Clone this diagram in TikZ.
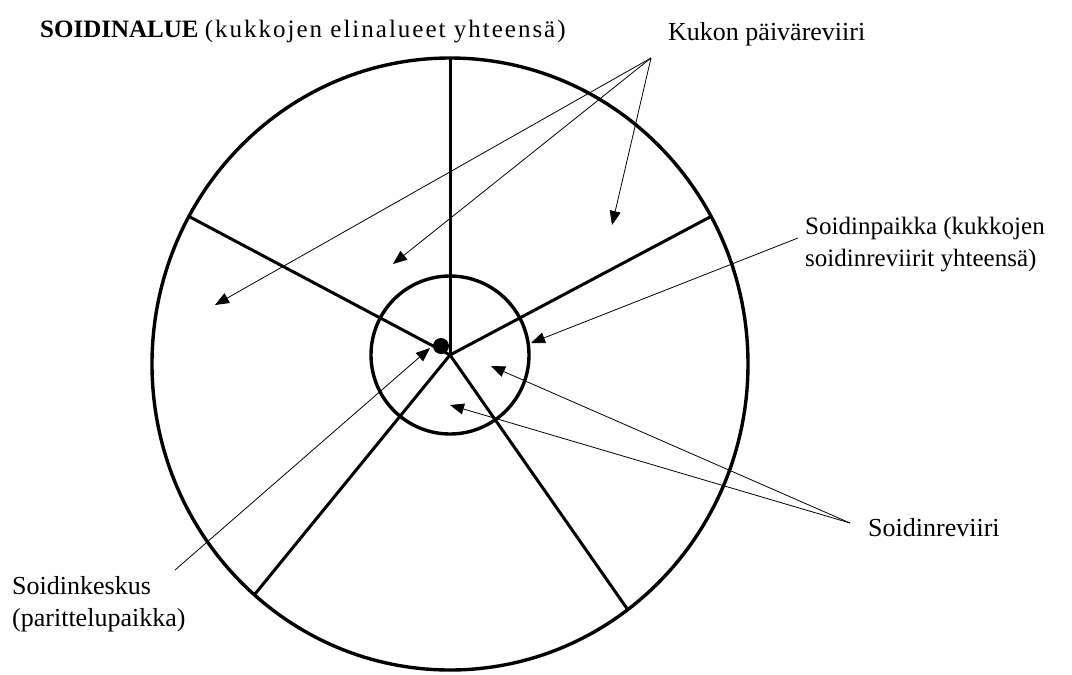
\documentclass[tikz,border=0pt]{standalone}
\usepackage{fontspec}
\setmainfont{Liberation Serif}
\usetikzlibrary{arrows.meta}
\begin{document}
\begin{tikzpicture}[x=1pt,y=-1pt,
  spoke/.style={line width=3pt},
  ring/.style={line width=3.4pt},
  pointer/.style={line width=0.8pt,-{Triangle[length=14pt,width=11pt]}},
  lbl/.style={inner sep=0pt,anchor=base west,font=\fontsize{26}{31}\selectfont},
  lbltwo/.style={inner sep=0pt,anchor=north west,align=left,font=\fontsize{26}{32}\selectfont}]
\useasboundingbox (0,0) rectangle (1072,675);
% circles
\coordinate (hub) at (450,355);
\draw[ring] (450,364) ellipse [x radius=298, y radius=306];
\draw[ring] (hub) circle [radius=79];
% spoke ends
\coordinate (sTop) at (450,58);
\coordinate (sUL) at (190,217);
\coordinate (sUR) at (710,217);
\coordinate (sLL) at (255,594);
\coordinate (sLR) at (628,610);
\foreach \e in {sTop,sUL,sUR,sLL,sLR} \draw[spoke] (hub) -- (\e);
\fill (441,346) circle [radius=8];
% labels
\node[inner sep=0pt,anchor=base west] (title) at (40,37)
  {\fontsize{25}{30}\selectfont\bfseries SOIDINALUE\ \fontsize{25}{30}\mdseries\selectfont\addfontfeatures{LetterSpace=8}(kukkojen elinalueet yhteensä)};
\node[lbl] (kukon) at (668,40) {Kukon päiväreviiri};
\node[lbltwo,font=\fontsize{25}{31.5}\selectfont] (paikka) at (805,217) {Soidinpaikka (kukkojen\\soidinreviirit yhteensä)};
\node[lbl] (reviiri) at (868,536) {Soidinreviiri};
\node[lbltwo] (keskus) at (12,576) {Soidinkeskus\\(parittelupaikka)};
% arrow apexes and targets
\coordinate (kApex) at (651,58);
\coordinate (k1) at (612,225);
\coordinate (k2) at (393,264);
\coordinate (k3) at (215,305);
\coordinate (pStart) at (798,238);
\coordinate (p1) at (531,343);
\coordinate (rApex) at (850,523);
\coordinate (r1) at (491,366);
\coordinate (r2) at (450,405);
\coordinate (cStart) at (175,570);
\coordinate (c1) at (430,348);
\draw[pointer] (kApex) -- (k1);
\draw[pointer] (kApex) -- (k2);
\draw[pointer] (kApex) -- (k3);
\draw[pointer] (pStart) -- (p1);
\draw[pointer] (rApex) -- (r1);
\draw[pointer] (rApex) -- (r2);
\draw[pointer] (cStart) -- (c1);
\end{tikzpicture}
\end{document}
